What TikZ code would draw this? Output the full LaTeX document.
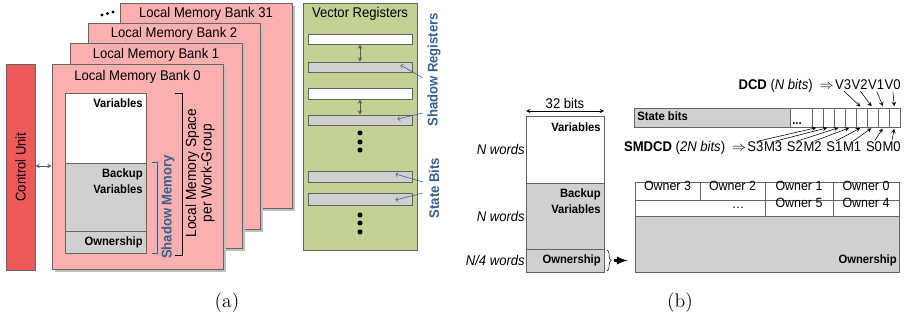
\documentclass[tikz,border=0pt]{standalone}
\usepackage{fontspec}
\setsansfont{Liberation Sans}[FakeStretch=0.93]
\renewcommand{\familydefault}{\sfdefault}
\usetikzlibrary{positioning,fit,shadows,decorations.pathreplacing}
\definecolor{bankpink}{RGB}{252,176,176}
\definecolor{ctrlred}{RGB}{238,90,90}
\definecolor{regreen}{RGB}{194,210,148}
\definecolor{memgray}{RGB}{208,208,208}
\definecolor{shblue}{RGB}{55,96,146}
\definecolor{edgegray}{RGB}{100,100,100}
\tikzset{
  cellbox/.style={draw=edgegray, inner sep=0pt, line width=0.6pt},
  bank/.style={cellbox, fill=bankpink,
    drop shadow={shadow xshift=2pt, shadow yshift=-2pt, fill=black!25, opacity=1}},
  memw/.style={cellbox, fill=white},
  memg/.style={cellbox, fill=memgray},
  title/.style={font=\fontsize{10}{12}\selectfont, inner sep=0pt},
  lbl/.style={font=\fontsize{8.6}{11.4}\selectfont\bfseries, inner sep=0pt, align=right},
  bluelbl/.style={font=\fontsize{10}{12}\selectfont\bfseries, text=shblue, inner sep=0pt},
  ownlbl/.style={font=\fontsize{9.5}{11}\selectfont},
  wordlbl/.style={font=\fontsize{10}{12}\selectfont\itshape, inner sep=0pt, anchor=east},
  caplbl/.style={font=\rmfamily\fontsize{14}{16}\selectfont},
  dblarrow/.style={<->, >=stealth, draw=gray!70!black, thin},
  bluearrow/.style={->, draw=shblue, thin},
  bitarrow/.style={-stealth, thin, shorten <=1pt, shorten >=1pt}
}

\begin{document}
\begin{tikzpicture}[x=0.025cm, y=-0.025cm]
  \useasboundingbox (0,0) rectangle (909,322);

  % (a) local memory banks, back to front
  \node[bank, fit={(120,3) (292,208)}] (bank31) {};
  \node[title] at (206,14) {Local Memory Bank 31};
  \node[bank, fit={(88,23) (260,229)}] (bank2) {};
  \node[title] at (174,34) {Local Memory Bank 2};
  \node[bank, fit={(70,43) (242,248)}] (bank1) {};
  \node[title] at (156,55) {Local Memory Bank 1};
  \node[bank, fit={(52,64) (223,269)}] (bank0) {};
  \node[title] at (137.5,77) {Local Memory Bank 0};
  \foreach \dx/\dy in {102/15, 107.5/13.5, 113/12}
    \fill (\dx,\dy) circle (1.1pt);

  \node[cellbox, fill=ctrlred, fit={(6,64) (35,270)}] (ctrl) {};
  \node[title, rotate=90] at (ctrl.center) {Control Unit};
  \draw[dblarrow] (ctrl.east |- 0,166) -- (bank0.west |- 0,166);

  \node[memw, fit={(65,93) (146,163)}] (avar) {};
  \node[memg, fit={(65,163) (146,231)}] (abak) {};
  \node[memg, fit={(65,231) (146,253)}] (aown) {};
  \node[lbl, anchor=east] at (143,103) {Variables};
  \node[lbl, anchor=east] at (143,181) {Backup\\Variables};
  \node[lbl, anchor=east] at (143,242) {Ownership};

  \draw[shblue, thin] (152,162) -- (157,162) -- (157,253) -- (152,253);
  \node[bluelbl, rotate=90] at (168,207) {Shadow Memory};
  \draw[thin] (175,93) -- (182,93) -- (182,255) -- (175,255);
  \node[title, rotate=90, align=center, font=\fontsize{10.5}{11}\selectfont] at (200,173)
    {Local Memory Space\\per Work-Group};

  % vector registers
  \node[cellbox, fill=regreen, fit={(303,3) (417,250)}] (vreg) {};
  \node[title] at (360,14) {Vector Registers};
  \node[memw, fit={(308,34) (412,44)}] (r1) {};
  \node[memg, fit={(308,62) (412,72)}] (r2) {};
  \node[memw, fit={(308,88) (412,99)}] (r3) {};
  \node[memg, fit={(308,115) (412,125)}] (r4) {};
  \node[memg, fit={(308,171) (412,182)}] (r5) {};
  \node[memg, fit={(308,193) (412,205)}] (r6) {};
  \foreach \dy in {133,142,150,215,223,232}
    \fill (360,\dy) circle (1.8pt);
  \draw[dblarrow] (r1.south) -- (r2.north);
  \draw[dblarrow] (r3.south) -- (r4.north);

  \node[bluelbl, rotate=90] (shreg) at (434,70) {Shadow Registers};
  \node[bluelbl, rotate=90] (stbits) at (434,188) {State Bits};
  \coordinate (sr1) at (423,78);
  \coordinate (sr2) at (423,113);
  \coordinate (sb1) at (423,182);
  \coordinate (sb2) at (423,193);
  \draw[bluearrow] (sr1) -- ([shift={(-12,-2)}]r2.east);
  \draw[bluearrow] (sr2) -- ([shift={(-15,-1)}]r4.east);
  \draw[bluearrow] (sb1) -- ([shift={(-17,-2.5)}]r5.east);
  \draw[bluearrow] (sb2) -- ([shift={(-17,1)}]r6.east);

  \node[caplbl] at (227,303) {(a)};

  % (b) memory layout
  \node[memw, fit={(526,116) (604,183)}] (bvar) {};
  \node[memg, fit={(526,183) (604,249)}] (bbak) {};
  \node[memg, fit={(526,249) (604,272)}] (bown) {};
  \node[lbl, anchor=east] at (601,127) {Variables};
  \node[lbl, anchor=east] at (601,201) {Backup\\Variables};
  \node[lbl, anchor=east] at (601,260) {Ownership};
  \coordinate (w1) at (526,111);
  \coordinate (w2) at (604,111);
  \draw[<->, >=stealth, thin] (w1) -- node[title, above=1.5pt] {32 bits} (w2);
  \node[wordlbl] at (525,149) {N words};
  \node[wordlbl] at (525,216) {N words};
  \node[wordlbl] at (525,260) {N/4 words};

  \draw[decorate, decoration={brace, amplitude=3pt}] (607,250) -- (607,271);
  \coordinate (brtip) at (614,260.5);

  % ownership table
  \node[memg, fit={(635,182) (899,272)}] (ownbox) {};
  \foreach \xa/\xb/\t in {635/700/3, 700/765/2, 765/833/1, 833/899/0}
    \node[memw, ownlbl, fit={(\xa,182) (\xb,200)}] (own\t) {Owner \t};
  \node[memw, fit={(635,200) (765,216)}] (owndots) {};
  \node[memw, ownlbl, fit={(765,200) (833,216)}] (own5) {Owner 5};
  \node[memw, ownlbl, fit={(833,200) (899,216)}] (own4) {Owner 4};
  \node[ownlbl, inner sep=0pt] at (738,208) {\dots};
  \node[lbl, anchor=east] at (897,260) {Ownership};
  \draw[-latex, line width=1.6pt, shorten >=5pt] (brtip) -- (brtip -| ownbox.west);

  % state bits
  \node[memg, fit={(634,108) (790,127)}] (stbar) {};
  \node[lbl, anchor=west] at (637,116.5) {State bits};
  \node[memw, fit={(790,108) (812,127)}] (dcell) {};
  \node[lbl, anchor=base west] at (792,124) {...};
  \foreach \xa [count=\i] in {812,823,...,889}
    \node[memw, fit={(\xa,108) ({\xa+11},127)}] (c\i) {};

  \node[title, anchor=east] (v0) at (901,85) {V0};
  \node[title, base left=0pt of v0] (v1) {V1};
  \node[title, base left=0pt of v1] (v2) {V2};
  \node[title, base left=0pt of v2] (v3) {V3};
  \node[title, base left=0.5pt of v3] (dcd) {\textbf{DCD} (\textit{N bits})\enspace$\Rightarrow$};
  \draw[bitarrow] (v3.south) -- (c5.north);
  \draw[bitarrow] (v2.south) -- (c6.north);
  \draw[bitarrow] (v1.south) -- (c7.north);
  \draw[bitarrow] (v0.south) -- (c8.north);

  \node[title, anchor=east] (m0) at (901,147) {M0};
  \node[title, base left=0pt of m0] (s0) {S0};
  \node[title, base left=3pt of s0] (m1) {M1};
  \node[title, base left=0pt of m1] (s1) {S1};
  \node[title, base left=3pt of s1] (m2) {M2};
  \node[title, base left=0pt of m2] (s2) {S2};
  \node[title, base left=3pt of s2] (m3) {M3};
  \node[title, base left=0pt of m3] (s3) {S3};
  \node[title, base left=0.5pt of s3] (smdcd) {\textbf{SMDCD} (\textit{2N bits})\enspace$\Rightarrow$};
  \foreach \lb [count=\i] in {s3,m3,s2,m2,s1,m1,s0,m0}
    \draw[bitarrow] (\lb.north) -- (c\i.south);

  \node[caplbl] at (680,303) {(b)};
\end{tikzpicture}
\end{document}
